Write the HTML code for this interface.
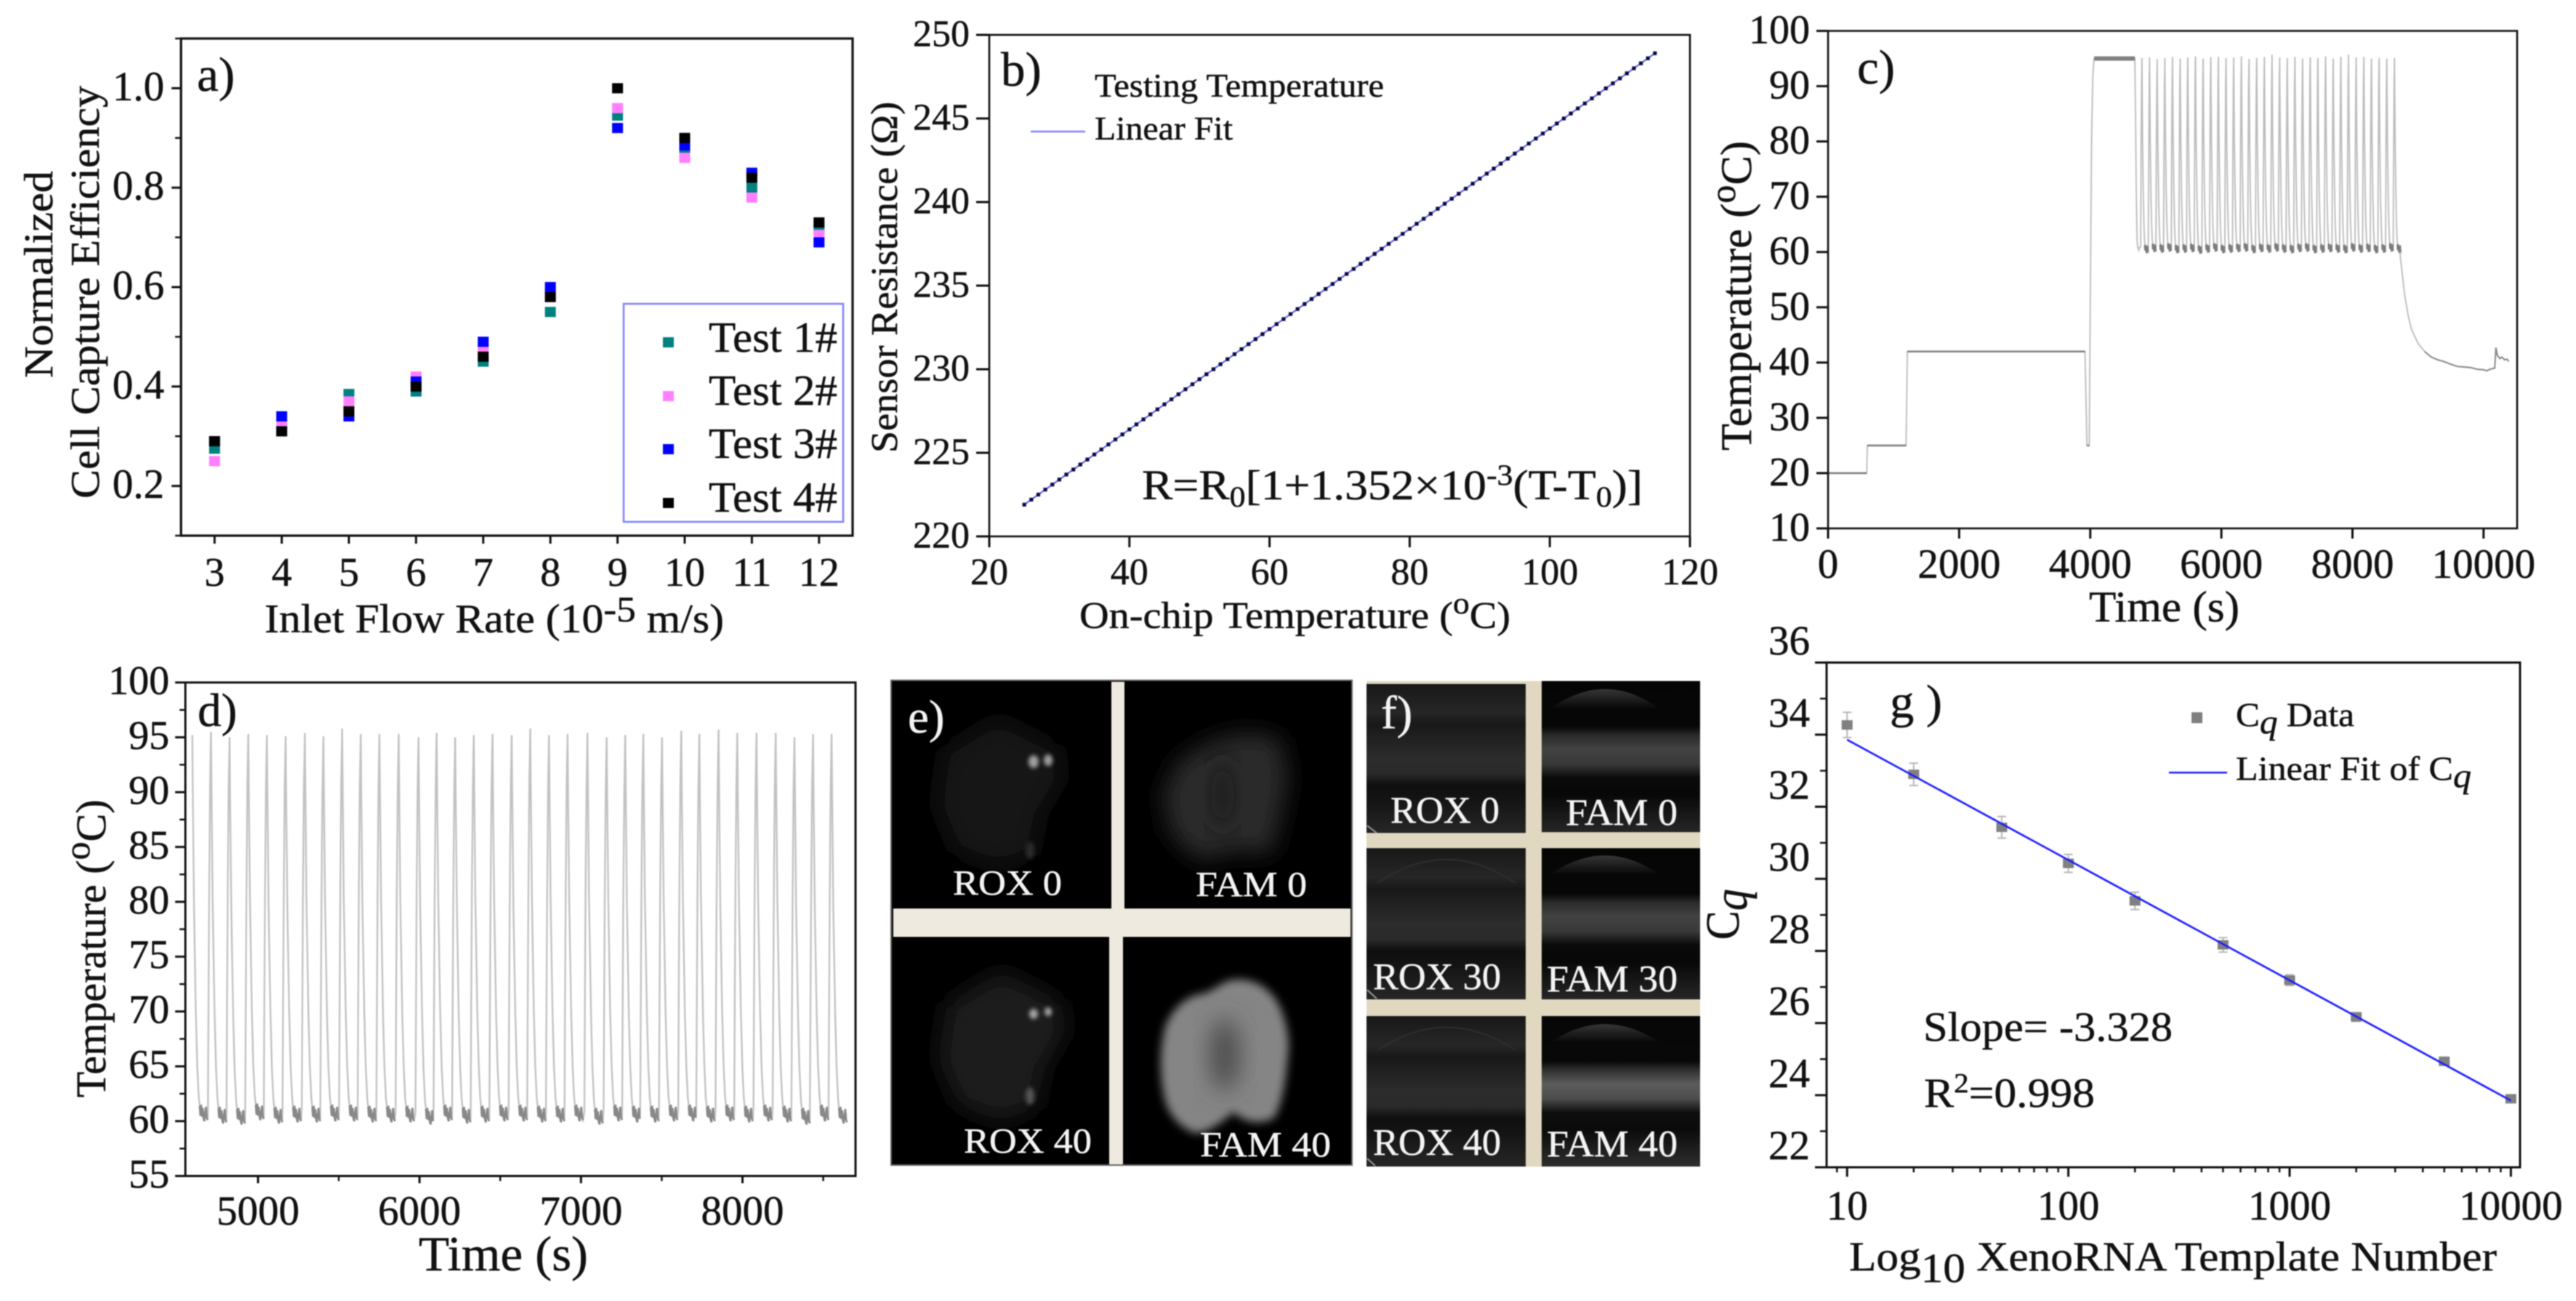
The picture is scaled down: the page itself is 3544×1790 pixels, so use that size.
<!DOCTYPE html>
<html lang="en">
<head>
<meta charset="utf-8">
<title>Seven-panel microfluidic PCR figure</title>
<style>
html,body{margin:0;padding:0;background:#fff;width:3544px;height:1790px;overflow:hidden}
svg{display:block;filter:blur(.7px)}
text{font-family:"Liberation Serif",serif;fill:#111;stroke:#111;stroke-width:.5}
text.w{fill:#f4f4f4;stroke:#f4f4f4}
</style>
</head>
<body>
<svg id="figure" xmlns="http://www.w3.org/2000/svg" width="3544" height="1790" viewBox="0 0 3544 1790">
<defs>
<filter id="b12" x="-30%" y="-30%" width="160%" height="160%"><feGaussianBlur stdDeviation="16"/></filter>
<filter id="b4" x="-30%" y="-30%" width="160%" height="160%"><feGaussianBlur stdDeviation="6"/></filter>
<filter id="b16" x="-60%" y="-60%" width="220%" height="220%"><feGaussianBlur stdDeviation="16"/></filter>
<filter id="b3" x="-100%" y="-100%" width="300%" height="300%"><feGaussianBlur stdDeviation="3"/></filter>
<linearGradient id="famBand" x1="0" y1="0" x2="0" y2="1">
<stop offset="0" stop-color="#050505"/><stop offset=".3" stop-color="#060606"/><stop offset=".36" stop-color="#2a2a2a"/><stop offset=".45" stop-color="#424242"/><stop offset=".55" stop-color="#383838"/><stop offset=".64" stop-color="#0a0a0a"/><stop offset=".75" stop-color="#070707"/><stop offset="1" stop-color="#262626"/>
</linearGradient>
<linearGradient id="famBand3" x1="0" y1="0" x2="0" y2="1">
<stop offset="0" stop-color="#060606"/><stop offset=".3" stop-color="#080808"/><stop offset=".36" stop-color="#303030"/><stop offset=".45" stop-color="#5c5c5c"/><stop offset=".55" stop-color="#4c4c4c"/><stop offset=".64" stop-color="#0e0e0e"/><stop offset=".75" stop-color="#0a0a0a"/><stop offset="1" stop-color="#2e2e2e"/>
</linearGradient>
<linearGradient id="roxBand" x1="0" y1="0" x2="0" y2="1">
<stop offset="0" stop-color="#181818"/><stop offset=".19" stop-color="#262626"/><stop offset=".27" stop-color="#181818"/><stop offset=".5" stop-color="#2c2c2c"/><stop offset=".6" stop-color="#2a2a2a"/><stop offset=".68" stop-color="#0e0e0e"/><stop offset=".78" stop-color="#141414"/><stop offset="1" stop-color="#262626"/>
</linearGradient>
<linearGradient id="dome" x1="0" y1="0" x2="0" y2="1">
<stop offset="0" stop-color="#363636"/><stop offset="1" stop-color="#070707"/>
</linearGradient>
</defs>

<!-- Panel a -->
<g id="panel-a">
<text x="271" y="125" font-size="67">a)</text>
<g transform="translate(72,520) rotate(-90)"><text font-size="56" textLength="285" lengthAdjust="spacingAndGlyphs">Normalized</text></g>
<g transform="translate(136,686) rotate(-90)"><text font-size="56" textLength="568" lengthAdjust="spacingAndGlyphs">Cell Capture Efficiency</text></g>
<text x="364" y="870" font-size="56" textLength="632" lengthAdjust="spacingAndGlyphs">Inlet Flow Rate (10<tspan font-size="50" dy="-15">-5</tspan><tspan dy="15"> m/s)</tspan></text>
<rect x="858" y="418" width="302" height="300" fill="#fff" stroke="#8080ff" stroke-width="2.5"/>
<rect x="912" y="464" width="15" height="14" fill="#008080"/>
<rect x="912" y="538" width="15" height="14" fill="#ff80ff"/>
<rect x="912" y="611" width="15" height="14" fill="#0000ff"/>
<rect x="912" y="685" width="15" height="14" fill="#000"/>
<text x="975" y="484" font-size="59" textLength="177" lengthAdjust="spacingAndGlyphs">Test 1#</text>
<text x="975" y="557" font-size="59" textLength="177" lengthAdjust="spacingAndGlyphs">Test 2#</text>
<text x="975" y="630" font-size="59" textLength="177" lengthAdjust="spacingAndGlyphs">Test 3#</text>
<text x="975" y="704" font-size="59" textLength="177" lengthAdjust="spacingAndGlyphs">Test 4#</text>
</g>

<!-- Panel b -->
<g id="panel-b">
<text x="1377" y="118" font-size="67">b)</text>
<g transform="translate(1234,623) rotate(-90)"><text font-size="52" textLength="483" lengthAdjust="spacingAndGlyphs">Sensor Resistance (Ω)</text></g>
<text x="1485" y="864" font-size="52" textLength="593" lengthAdjust="spacingAndGlyphs">On-chip Temperature (<tspan font-size="42" dy="-20">o</tspan><tspan dy="20">C)</tspan></text>
<text x="1506" y="133" font-size="46" textLength="398" lengthAdjust="spacingAndGlyphs">Testing Temperature</text>
<text x="1506" y="192" font-size="46" textLength="190" lengthAdjust="spacingAndGlyphs">Linear Fit</text>
<line x1="1418" x2="1493" y1="181" y2="181" stroke="#8080ff" stroke-width="2.5"/>
<text x="1571" y="687" font-size="58" textLength="689" lengthAdjust="spacingAndGlyphs">R=R<tspan font-size="40" dy="10">0</tspan><tspan dy="-10">[1+1.352×10</tspan><tspan font-size="40" dy="-20">-3</tspan><tspan dy="20">(T-T</tspan><tspan font-size="40" dy="10">0</tspan><tspan dy="-10">)]</tspan></text>
</g>

<!-- Panel c -->
<g id="panel-c">
<text x="2555" y="115" font-size="67">c)</text>
<g transform="translate(2409,620) rotate(-90)"><text font-size="60" textLength="426" lengthAdjust="spacingAndGlyphs">Temperature (<tspan font-size="50" dy="-22">o</tspan><tspan dy="22">C)</tspan></text></g>
<text x="2874" y="855" font-size="60" textLength="207" lengthAdjust="spacingAndGlyphs">Time (s)</text>
</g>

<!-- Panel d -->
<g id="panel-d">
<g transform="translate(145,1510) rotate(-90)"><text font-size="58" textLength="410" lengthAdjust="spacingAndGlyphs">Temperature (<tspan font-size="50" dy="-22">o</tspan><tspan dy="22">C)</tspan></text></g>
<text x="576" y="1748" font-size="68" textLength="233" lengthAdjust="spacingAndGlyphs">Time (s)</text>
</g>

<!-- Panel e -->
<g id="panel-e">
<rect x="1226" y="936" width="634" height="667" fill="#000" stroke="#666" stroke-width="2"/>
<path d="M1373 987 L1456 1029 L1463 1070 L1433 1120 L1422 1175 L1373 1194 L1313 1171 L1287 1107 L1298 1033 Z" fill="#131313" filter="url(#b12)"/>
<ellipse cx="1422" cy="1048" rx="7" ry="9" fill="#a0a0a0" filter="url(#b3)"/>
<ellipse cx="1442" cy="1046" rx="6" ry="8" fill="#a0a0a0" filter="url(#b3)"/>
<ellipse cx="1417" cy="1170" rx="6" ry="12" fill="#2a2a2a" filter="url(#b3)"/>
<path d="M1712 1008 L1761 1015 L1772 1070 L1761 1130 L1749 1175 L1697 1171 L1651 1185 L1610 1148 L1599 1093 L1621 1047 L1667 1019 Z" fill="#2c2c2c" filter="url(#b12)"/>
<ellipse cx="1682" cy="1093" rx="16" ry="50" fill="#1e1e1e" filter="url(#b12)"/>
<path d="M1377 1336 L1460 1378 L1467 1419 L1437 1469 L1426 1524 L1377 1543 L1317 1520 L1291 1456 L1302 1382 Z" fill="#1c1c1c" filter="url(#b12)"/>
<ellipse cx="1422" cy="1395" rx="6" ry="7" fill="#a8a8a8" filter="url(#b3)"/>
<ellipse cx="1442" cy="1392" rx="5" ry="6" fill="#a8a8a8" filter="url(#b3)"/>
<ellipse cx="1417" cy="1508" rx="6" ry="12" fill="#555" filter="url(#b3)"/>
<path d="M1697 1348 C1725 1345 1745 1360 1755 1375 C1768 1395 1773 1425 1773 1440 C1770 1470 1768 1510 1753 1538 C1735 1548 1712 1545 1697 1530 C1680 1545 1660 1560 1644 1559 C1620 1550 1606 1530 1602 1510 C1595 1480 1595 1440 1604 1410 C1615 1385 1635 1370 1651 1368 C1670 1365 1680 1350 1697 1348 Z" fill="#858585" filter="url(#b4)"/>
<ellipse cx="1685" cy="1451" rx="20" ry="50" fill="#4c4c4c" filter="url(#b16)"/>
<rect x="1529" y="938" width="18" height="314" fill="#efeadf"/>
<rect x="1526" y="1288" width="19" height="314" fill="#efeadf"/>
<rect x="1229" y="1250" width="629" height="39" fill="#efeadf"/>
<text class="w" x="1311" y="1231" font-size="49" textLength="150" lengthAdjust="spacingAndGlyphs">ROX 0</text>
<text class="w" x="1645" y="1233" font-size="49" textLength="153" lengthAdjust="spacingAndGlyphs">FAM 0</text>
<text class="w" x="1326" y="1586" font-size="49" textLength="176" lengthAdjust="spacingAndGlyphs">ROX 40</text>
<text class="w" x="1651" y="1591" font-size="49" textLength="180" lengthAdjust="spacingAndGlyphs">FAM 40</text>
<text class="w" x="1249" y="1008" font-size="65">e)</text>
</g>

<!-- Panel f -->
<g id="panel-f">
<rect x="1880" y="937" width="459" height="668" fill="#e0d8c0"/>
<rect x="1880" y="941" width="219" height="205" fill="url(#roxBand)"/>
<rect x="2121" y="937" width="218" height="208" fill="url(#famBand)"/>
<rect x="1880" y="1167" width="219" height="208" fill="url(#roxBand)"/>
<rect x="2121" y="1167" width="218" height="208" fill="url(#famBand)"/>
<rect x="1880" y="1398" width="219" height="207" fill="url(#roxBand)"/>
<rect x="2121" y="1398" width="218" height="207" fill="url(#famBand3)"/>
<path d="M2133 975 Q2208 921 2283 975 Z" fill="url(#dome)"/>
<path d="M2133 1203 Q2208 1151 2283 1203 Z" fill="url(#dome)"/>
<path d="M2133 1434 Q2208 1384 2283 1434 Z" fill="url(#dome)"/>
<path d="M1895 1215 Q1990 1150 2085 1215" fill="none" stroke="#2e2e2e" stroke-width="2"/>
<path d="M1895 1445 Q1990 1382 2085 1445" fill="none" stroke="#2e2e2e" stroke-width="2"/>
<path d="M1881 1136 L1894 1146" stroke="#999" stroke-width="2"/>
<path d="M1881 1362 L1894 1374" stroke="#999" stroke-width="2"/>
<path d="M1881 1594 L1892 1604" stroke="#999" stroke-width="2"/>
<text class="w" x="1913" y="1132" font-size="52" textLength="150" lengthAdjust="spacingAndGlyphs">ROX 0</text>
<text class="w" x="2154" y="1135" font-size="52" textLength="154" lengthAdjust="spacingAndGlyphs">FAM 0</text>
<text class="w" x="1889" y="1361" font-size="52" textLength="176" lengthAdjust="spacingAndGlyphs">ROX 30</text>
<text class="w" x="2128" y="1364" font-size="52" textLength="180" lengthAdjust="spacingAndGlyphs">FAM 30</text>
<text class="w" x="1889" y="1589" font-size="52" textLength="176" lengthAdjust="spacingAndGlyphs">ROX 40</text>
<text class="w" x="2128" y="1591" font-size="52" textLength="180" lengthAdjust="spacingAndGlyphs">FAM 40</text>
<text class="w" x="1900" y="1002" font-size="65">f)</text>
</g>

<!-- Panel g -->
<g id="panel-g">
<text x="2600" y="987" font-size="65" textLength="72" lengthAdjust="spacingAndGlyphs">g )</text>
<g transform="translate(2392,1293) rotate(-90)"><text font-size="66" textLength="70" lengthAdjust="spacingAndGlyphs">C<tspan font-style="italic" dy="11">q</tspan></text></g>
<text x="2544" y="1748" font-size="57" textLength="891" lengthAdjust="spacingAndGlyphs">Log<tspan font-size="57" dy="16">10</tspan><tspan dy="-16"> XenoRNA Template Number</tspan></text>
<rect x="3015" y="980" width="15" height="15" fill="#808080"/>
<text x="3076" y="999" font-size="47" textLength="163" lengthAdjust="spacingAndGlyphs">C<tspan font-style="italic" dy="10">q</tspan><tspan dy="-10"> Data</tspan></text>
<line x1="2984" x2="3064" y1="1063" y2="1063" stroke="#1a1aff" stroke-width="2.5"/>
<text x="3076" y="1073" font-size="47" textLength="324" lengthAdjust="spacingAndGlyphs">Linear Fit of C<tspan font-style="italic" dy="10">q</tspan></text>
<text x="2646" y="1432" font-size="57" textLength="343" lengthAdjust="spacingAndGlyphs">Slope= -3.328</text>
<text x="2647" y="1523" font-size="57" textLength="235" lengthAdjust="spacingAndGlyphs">R<tspan font-size="38" dy="-20">2</tspan><tspan dy="20">=0.998</tspan></text>
</g>
</svg>

<script>
/* ---------- Panel a data ---------- */
const aFlowRates=[3,4,5,6,7,8,9,10,11,12];
const aTest1=[0.275,0.31,0.385,0.39,0.45,0.55,0.945,0.875,0.80,0.715];
const aTest2=[0.25,0.325,0.37,0.42,0.475,0.58,0.96,0.86,0.78,0.705];
const aTest3=[0.29,0.34,0.34,0.41,0.49,0.60,0.92,0.885,0.83,0.69];
const aTest4=[0.29,0.31,0.35,0.40,0.46,0.58,1.00,0.90,0.82,0.73];
const aYTicks=[0.2,0.4,0.6,0.8,1.0];
const aYTickLabels=['0.2','0.4','0.6','0.8','1.0'];
const aYMinor=[0.1,0.3,0.5,0.7,0.9,1.1];
const aXTickLabels=['3','4','5','6','7','8','9','10','11','12'];

/* ---------- Panel b data ---------- */
const bTemps=[25,26,27,28,29,30,31,32,33,34,35,36,37,38,39,40,41,42,43,44,45,46,47,48,49,50,51,52,53,54,55,56,57,58,59,60,61,62,63,64,65,66,67,68,69,70,71,72,73,74,75,76,77,78,79,80,81,82,83,84,85,86,87,88,89,90,91,92,93,94,95,96,97,98,99,100,101,102,103,104,105,106,107,108,109,110,111,112,113,114,115];
const bResistance=[221.9,222.2,222.5,222.8,223.1,223.4,223.7,224.0,224.3,224.6,224.9,225.2,225.5,225.8,226.1,226.4,226.7,227.0,227.3,227.6,227.9,228.2,228.5,228.8,229.1,229.4,229.7,230.0,230.3,230.6,230.9,231.2,231.5,231.8,232.1,232.4,232.7,233.0,233.3,233.6,233.9,234.2,234.5,234.8,235.1,235.4,235.7,236.0,236.3,236.6,236.9,237.2,237.5,237.8,238.1,238.4,238.7,239.0,239.3,239.6,239.9,240.2,240.5,240.8,241.1,241.4,241.7,242.0,242.3,242.6,242.9,243.2,243.5,243.8,244.1,244.4,244.7,245.0,245.3,245.6,245.9,246.2,246.5,246.8,247.1,247.4,247.7,248.0,248.3,248.6,248.9];
const bFitTemps=[25,115];
const bFitResistance=[221.9,248.9];
const bYTicks=[220,225,230,235,240,245,250];
const bYTickLabels=['220','225','230','235','240','245','250'];
const bXTicks=[20,40,60,80,100,120];
const bXTickLabels=['20','40','60','80','100','120'];

/* ---------- Shared thermal-cycle shape ---------- */
const cycleOffsets=[-19,-16,-12,-6,0,3,10,22,31,40];
const cycleFractions=[0.03,0.28,0.57,0.86,1,0.86,0.57,0.28,0.14,0.06];
const troughOffsets=[46,50,55,60,65,70,75,80,85,90,95];
const troughNoise=[1.3,0.4,1.4,0.3,1.1,0.1,-0.1,0.7,1.2,0.2,0];

/* ---------- Panel c data ---------- */
const cStepTimes=[0,590,600,1190,1210,3920,3950,3985,4000,4020,4040,4058,4680,4690,4700,4715,4725,4740,4755];
const cStepTemps=[20,20,25,25,42,42,25,25,50,80,92,95,95,85,72,62,60.8,60.3,60.9];
const cPlateauStarts=[0,600,1210,3950,4060];
const cPlateauEnds=[590,1190,3920,3985,4680];
const cPlateauTemps=[20,25,42,25,95];
const cPeakTimes=[4788,4905,5021,5138,5255,5372,5488,5605,5722,5839,5955,6072,6189,6306,6422,6539,6656,6773,6889,7006,7123,7240,7356,7473,7590,7707,7823,7940,8057,8174,8290,8407,8524,8641];
const cPeakTemps=[95.1,95.2,94.9,95.1,95.3,95.0,95.2,95.4,95.0,95.3,95.3,95.1,95.2,95.4,94.9,95.1,95.3,95.7,95.2,95.1,95.3,95.0,95.2,95.1,95.4,95.0,95.3,95.7,95.2,95.3,95.0,95.1,95.0,95.1];
const cTroughs=[59.9,60.1,60.0,60.2,59.9,60.0,60.1,59.8,60.0,60.2,59.9,60.0,60.1,60.2,59.9,60.1,60.0,60.2,60.0,59.9,60.1,60.2,59.9,60.0,60.1,60.0,59.9,60.2,60.0,60.1,59.9,60.0,60.2,60.0];
const cDecayTimes=[8700,8723,8750,8800,8850,8900,8960,9000,9100,9200,9300,9390,9500,9600,9700,9800,9900,10000,10050,10100,10170,10188,10210,10250,10280,10320,10360,10384];
const cDecayTemps=[60.4,60,57,52,48.5,46,44.5,43.5,42,41,40.5,40.2,39.7,39.3,39.2,39.1,38.8,38.7,38.5,38.8,39,42.7,41.3,40.7,41,40.5,40.6,40.2];
const cYTicks=[10,20,30,40,50,60,70,80,90,100];
const cYTickLabels=['10','20','30','40','50','60','70','80','90','100'];
const cXTicks=[0,2000,4000,6000,8000,10000];
const cXTickLabels=['0','2000','4000','6000','8000','10000'];

/* ---------- Panel d data ---------- */
const dPeakTimes=[4593,4709,4824,4940,5055,5171,5290,5405,5521,5636,5752,5871,5994,6106,6221,6336,6452,6571,6686,6802,6917,7040,7159,7274,7386,7502,7621,7733,7852,7968,8087,8206,8322,8437,8552];
const dPeakTemps=[95.2,95.5,95.0,95.3,95.2,95.1,95.4,95.1,95.8,95.3,95.3,95.3,95.0,95.4,95.0,95.2,95.3,95.2,95.8,95.2,95.3,95.4,95.0,95.2,95.3,95.0,95.6,95.3,95.7,95.4,95.4,95.4,95.0,95.3,95.3];
const dTroughs=[60.1,59.9,59.8,60.2,59.9,60.0,60.0,60.1,60.1,60.0,60.0,60.0,59.8,60.1,59.9,60.0,60.1,60.1,60.0,60.0,60.1,59.8,60.1,60.0,60.0,60.1,60.1,60.0,60.1,60.0,60.1,60.0,59.8,60.1,59.9];
const dYTicks=[55,60,65,70,75,80,85,90,95,100];
const dYTickLabels=['55','60','65','70','75','80','85','90','95','100'];
const dYMinor=[57.5,62.5,67.5,72.5,77.5,82.5,87.5,92.5,97.5];
const dXTicks=[5000,6000,7000,8000];
const dXTickLabels=['5000','6000','7000','8000'];
const dXMinor=[5500,6500,7500,8500];

/* ---------- Panel g data ---------- */
const gCopies=[10,20,50,100,200,500,1000,2000,5000,10000];
const gCq=[34.27,32.90,31.43,30.43,29.39,28.17,27.19,26.17,24.94,23.90];
const gErrors=[0.35,0.31,0.30,0.25,0.24,0.20,0.15,0.12,0.10,0.08];
const gFitCopies=[10,10000];
const gFitCq=[33.86,23.85];
const gYTicks=[22,24,26,28,30,32,34,36];
const gYTickLabels=['22','24','26','28','30','32','34','36'];
const gYMinor=[23,25,27,29,31,33,35];
const gXTicks=[10,100,1000,10000];
const gXTickLabels=['10','100','1000','10000'];
const gXMinor=[9,20,30,40,50,60,70,80,90,200,300,400,500,600,700,800,900,2000,3000,4000,5000,6000,7000,8000,9000];

/* ---------- Helpers ---------- */
const NS='http://www.w3.org/2000/svg';
function mk(tag,attrs,parent){
  const e=document.createElementNS(NS,tag);
  for(const k in attrs){e.setAttribute(k,attrs[k]);}
  parent.appendChild(e);
  return e;
}
function lin(d0,d1,r0,r1){return v=>r0+(v-d0)*(r1-r0)/(d1-d0);}
function log10Scale(d0,d1,r0,r1){return v=>r0+(Math.log10(v)-d0)*(r1-r0)/(d1-d0);}

function drawFrame(g,x0,y0,x1,y1,w){
  const frame=mk('rect',{x:x0,y:y0,width:x1-x0,height:y1-y0,fill:'none',stroke:'#111','stroke-width':w},g);
  
  
}
function yAxis(g,o){
  o.ticks.forEach((v,i)=>{
    const y=o.scale(v);
    const tick=mk('line',{x1:o.x-o.len,x2:o.x,y1:y,y2:y,stroke:'#111','stroke-width':3},g);
    
    
    const lab=mk('text',{x:o.labelX,y:y+o.base,'font-size':o.font,'text-anchor':'end'},g);
    
    
    lab.textContent=o.labels[i];
  });
  (o.minor||[]).forEach(v=>{
    const y=o.scale(v);
    const tick=mk('line',{x1:o.x-o.minorLen,x2:o.x,y1:y,y2:y,stroke:'#111','stroke-width':2.5},g);
    
    
  });
}
function xAxis(g,o){
  o.ticks.forEach((v,i)=>{
    const x=o.scale(v);
    const tick=mk('line',{x1:x,x2:x,y1:o.y,y2:o.y+o.len,stroke:'#111','stroke-width':3},g);
    
    
    const lab=mk('text',{x:x,y:o.labelY,'font-size':o.font,'text-anchor':'middle'},g);
    
    
    lab.textContent=o.labels[i];
  });
  (o.minor||[]).forEach(v=>{
    const x=o.scale(v);
    const tick=mk('line',{x1:x,x2:x,y1:o.y,y2:o.y+o.minorLen,stroke:'#111','stroke-width':2.5},g);
    
    
  });
}
/* Builds spike and trough paths for a run of thermal cycles from peak, peak-temperature and trough arrays. */
function cycleSegments(times,peaks,troughs,sx,sy,skipFirstRise){
  const line=[];let dark='';
  times.forEach((t,i)=>{
    cycleOffsets.forEach((off,j)=>{
      if(i===0&&skipFirstRise&&off<0){return;}
      const temp=troughs[i]+cycleFractions[j]*(peaks[i]-troughs[i]);
      line.push(sx(t+off).toFixed(1)+','+sy(temp).toFixed(1));
    });
    const nextStart=i<times.length-1?times[i+1]+cycleOffsets[0]:t+100;
    let first=true;
    troughOffsets.forEach((off,j)=>{
      if(t+off>=nextStart){return;}
      const pt=sx(t+off).toFixed(1)+','+sy(troughs[i]+troughNoise[j]).toFixed(1);
      line.push(pt);
      dark+=(first?'M':'L')+pt+' ';
      first=false;
    });
  });
  return {line:line,dark:dark};
}

/* ---------- Panel a ---------- */
(function(){
  const g=document.getElementById('panel-a');
  const sx=lin(2.5,12.5,249,1173),sy=lin(0.1,1.1,737,53);
  const series=[[aTest1,'#008080'],[aTest2,'#ff80ff'],[aTest3,'#0000ff'],[aTest4,'#000000']];
  series.forEach(s=>{
    aFlowRates.forEach((x,i)=>{
      const m=mk('rect',{x:sx(x)-7.5,y:sy(s[0][i])-7,width:15,height:14,fill:s[1]},g);
      
      
    });
  });
  drawFrame(g,249,53,1173,737,3.2);
  yAxis(g,{ticks:aYTicks,labels:aYTickLabels,minor:aYMinor,scale:sy,x:249,len:13,minorLen:8,labelX:226,base:16.5,font:57});
  xAxis(g,{ticks:aFlowRates,labels:aXTickLabels,scale:sx,y:737,len:11,labelY:806,font:56});
})();

/* ---------- Panel b ---------- */
(function(){
  const g=document.getElementById('panel-b');
  const sx=lin(20,120,1361,2325),sy=lin(220,250,738,48);
  const fit=mk('line',{x1:sx(bFitTemps[0]),y1:sy(bFitResistance[0]),x2:sx(bFitTemps[1]),y2:sy(bFitResistance[1]),stroke:'#5858ff','stroke-width':2},g);
  
  
  bTemps.forEach((t,i)=>{
    const d=mk('rect',{x:sx(t)-2.6,y:sy(bResistance[i])-2.6,width:5.2,height:5.2,fill:'#0a0a3c'},g);
    
    
  });
  drawFrame(g,1361,48,2325,738,2.6);
  yAxis(g,{ticks:bYTicks,labels:bYTickLabels,scale:sy,x:1361,len:18,labelX:1334,base:15.5,font:52});
  xAxis(g,{ticks:bXTicks,labels:bXTickLabels,scale:sx,y:738,len:15,labelY:804,font:52});
})();

/* ---------- Panel c ---------- */
(function(){
  const g=document.getElementById('panel-c');
  const sx=lin(0,10512,2515,3463),sy=lin(10,100,727,42.5);
  const seg=cycleSegments(cPeakTimes,cPeakTemps,cTroughs,sx,sy,false);
  const pts=[];
  cStepTimes.forEach((t,i)=>{pts.push(sx(t).toFixed(1)+','+sy(cStepTemps[i]).toFixed(1));});
  const decay=[];
  cDecayTimes.forEach((t,i)=>{decay.push(sx(t).toFixed(1)+','+sy(cDecayTemps[i]).toFixed(1));});
  const trace=mk('polyline',{points:pts.concat(seg.line,decay).join(' '),fill:'none',stroke:'#bdbdbd','stroke-width':1.9},g);
  
  
  const troughs=mk('path',{d:seg.dark,fill:'none',stroke:'#7c7c7c','stroke-width':2.6},g);
  
  
  cPlateauStarts.forEach((t,i)=>{
    const p=mk('line',{x1:sx(t),x2:sx(cPlateauEnds[i]),y1:sy(cPlateauTemps[i]),y2:sy(cPlateauTemps[i]),stroke:'#808080','stroke-width':cPlateauTemps[i]===95?6:2.6},g);
    
    
  });
  const tail=mk('polyline',{points:decay.slice(8).join(' '),fill:'none',stroke:'#8a8a8a','stroke-width':2},g);
  
  
  drawFrame(g,2515,42.5,3463,727,2.6);
  yAxis(g,{ticks:cYTicks,labels:cYTickLabels,scale:sy,x:2515,len:16,labelX:2490,base:17,font:56});
  xAxis(g,{ticks:cXTicks,labels:cXTickLabels,scale:sx,y:727,len:14,labelY:795,font:57});
})();

/* ---------- Panel d ---------- */
(function(){
  const g=document.getElementById('panel-d');
  const sx=lin(4550,8700,255,1177),sy=lin(55,100,1618,939);
  const seg=cycleSegments(dPeakTimes,dPeakTemps,dTroughs,sx,sy,true);
  const trace=mk('polyline',{points:seg.line.join(' '),fill:'none',stroke:'#c2c2c2','stroke-width':2.4},g);
  
  
  const troughs=mk('path',{d:seg.dark,fill:'none',stroke:'#888','stroke-width':2.6},g);
  
  
  drawFrame(g,255,939,1177,1618,3);
  yAxis(g,{ticks:dYTicks,labels:dYTickLabels,minor:dYMinor,scale:sy,x:255,len:14,minorLen:8,labelX:233,base:16,font:56});
  xAxis(g,{ticks:dXTicks,labels:dXTickLabels,minor:dXMinor,scale:sx,y:1618,len:10,minorLen:7,labelY:1685,font:57});
  const lab=mk('text',{x:272,y:999,'font-size':65},g);
  
  
  lab.textContent='d)';
})();

/* ---------- Panel g ---------- */
(function(){
  const g=document.getElementById('panel-g');
  const sx=log10Scale(1,4,2541.2,3454.4),sy=lin(22,36,1606,911.6);
  gCopies.forEach((c,i)=>{
    const x=sx(c),hi=sy(gCq[i]+gErrors[i]),lo=sy(gCq[i]-gErrors[i]);
    const err=mk('path',{d:'M'+(x-6)+' '+hi+'H'+(x+6)+'M'+x+' '+hi+'V'+lo+'M'+(x-6)+' '+lo+'H'+(x+6),fill:'none',stroke:'#b8b8b8','stroke-width':2},g);
    
    
    const m=mk('rect',{x:x-7.5,y:sy(gCq[i])-6.5,width:15,height:13,fill:'#808080'},g);
    
    
  });
  const fit=mk('line',{x1:sx(gFitCopies[0]),y1:sy(gFitCq[0]),x2:sx(gFitCopies[1]),y2:sy(gFitCq[1]),stroke:'#1a1aff','stroke-width':2.6},g);
  
  
  drawFrame(g,2513,911.6,3467,1606,3);
  yAxis(g,{ticks:gYTicks,labels:gYTickLabels,minor:gYMinor,scale:sy,x:2513,len:16,minorLen:9,labelX:2490,base:-11,font:57});
  xAxis(g,{ticks:gXTicks,labels:gXTickLabels,minor:gXMinor,scale:sx,y:1606,len:13,minorLen:7,labelY:1678,font:57});
})();
</script>
</body>
</html>
